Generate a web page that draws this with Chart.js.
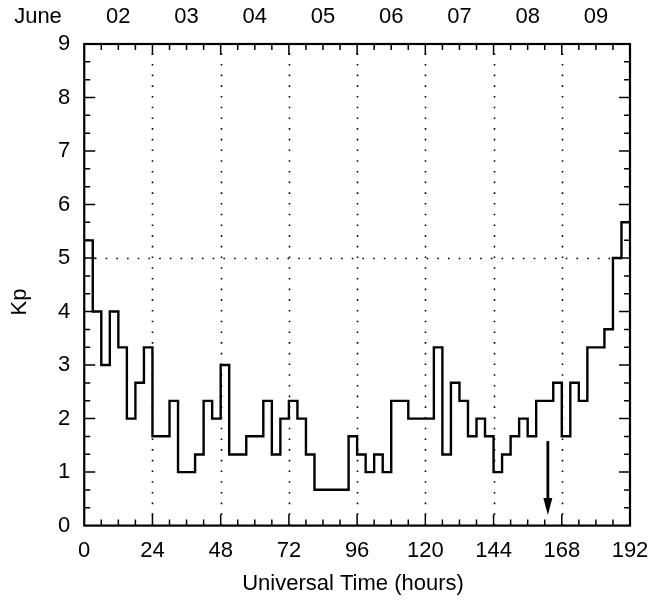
<!DOCTYPE html>
<html>
<head>
<meta charset="utf-8">
<script src="https://cdn.jsdelivr.net/npm/chart.js@4.4.1/dist/chart.umd.min.js"></script>
<style>
  html, body { margin: 0; padding: 0; background: #fff; }
  #wrap { width: 652px; height: 603px; }
</style>
</head>
<body>
<div id="wrap"><canvas id="kpChart" width="652" height="603"></canvas></div>
<script>
'use strict';

/* ── 3-hourly Kp, starting 00 UT June 1 ── */
const kpValues = [
  5.33, 4, 3, 4, 3.33, 2, 2.67, 3.33,
  1.67, 1.67, 2.33, 1, 1, 1.33, 2.33, 2,
  3, 1.33, 1.33, 1.67, 1.67, 2.33, 1.33, 2,
  2.33, 2, 1.33, 0.67, 0.67, 0.67, 0.67, 1.67,
  1.33, 1, 1.33, 1, 2.33, 2.33, 2, 2,
  2, 3.33, 1.33, 2.67, 2.33, 1.67, 2, 1.67,
  1, 1.33, 1.67, 2, 1.67, 2.33, 2.33, 2.67,
  1.67, 2.67, 2.33, 3.33, 3.33, 3.67, 5, 5.67
];
const BIN_HOURS = 3;

const xTickHours = [0, 24, 48, 72, 96, 120, 144, 168, 192];
const yTickVals  = [0, 1, 2, 3, 4, 5, 6, 7, 8, 9];
const dayLabels  = ['02', '03', '04', '05', '06', '07', '08', '09'];
const dayCenters = [12, 36, 60, 84, 108, 132, 156, 180];
const dayGrid    = [24, 48, 72, 96, 120, 144, 168];
const stormKp    = 5;
const arrowHour  = 163.1;
const arrowKp    = [1.58, 0.2];   // shaft top, tip

const FONT = "'Liberation Sans', Arial, sans-serif";
const FSIZE = 22;

/* ── frame, inward ticks, dotted grid, titles, arrow ── */
const framePlugin = {
  id: 'frame',
  beforeDatasetsDraw(chart) {
    const { ctx, chartArea: a, scales: { x, y } } = chart;
    ctx.save();
    ctx.strokeStyle = '#000';
    ctx.lineWidth = 1.6;
    ctx.lineCap = 'butt';
    ctx.setLineDash([1.6, 9.1]);
    dayGrid.forEach(h => {
      const px = Math.round(x.getPixelForValue(h)) + 0.5;
      ctx.beginPath(); ctx.moveTo(px, a.bottom); ctx.lineTo(px, a.top); ctx.stroke();
    });
    const py = Math.round(y.getPixelForValue(stormKp)) + 0.5;
    ctx.beginPath(); ctx.moveTo(a.left, py); ctx.lineTo(a.right, py); ctx.stroke();
    ctx.restore();
  },
  afterDatasetsDraw(chart) {
    const { ctx, chartArea: a, scales: { x, y } } = chart;
    ctx.save();
    ctx.strokeStyle = '#000';
    ctx.fillStyle = '#000';

    // ticks every 6 h, longer every 24 h
    ctx.lineWidth = 1.5;
    for (let h = 6; h < 192; h += 6) {
      const px = x.getPixelForValue(h), len = h % 24 === 0 ? 11 : 6;
      ctx.beginPath();
      ctx.moveTo(px, a.bottom); ctx.lineTo(px, a.bottom - len);
      ctx.moveTo(px, a.top); ctx.lineTo(px, a.top + len);
      ctx.stroke();
    }
    // Kp ticks every third, longer on integers
    for (let k = 1; k < 27; k++) {
      const py = y.getPixelForValue(k / 3), len = k % 3 === 0 ? 11 : 6;
      ctx.beginPath();
      ctx.moveTo(a.left, py); ctx.lineTo(a.left + len, py);
      ctx.moveTo(a.right, py); ctx.lineTo(a.right - len, py);
      ctx.stroke();
    }
    ctx.lineWidth = 2.2;
    ctx.strokeRect(a.left, a.top, a.right - a.left, a.bottom - a.top);

    // day labels along the top
    ctx.font = FSIZE + 'px ' + FONT;
    ctx.textBaseline = 'alphabetic';
    ctx.textAlign = 'center';
    dayLabels.forEach((lab, i) => ctx.fillText(lab, x.getPixelForValue(dayCenters[i]), 23));
    ctx.fillText('June', 38, 23);

    // axis titles
    ctx.fillText('Universal Time (hours)', 353, 590);
    ctx.save();
    ctx.translate(26, 302);
    ctx.rotate(-Math.PI / 2);
    ctx.fillText('Kp', 0, 0);
    ctx.restore();

    // arrow
    const ax = x.getPixelForValue(arrowHour);
    const y0 = y.getPixelForValue(arrowKp[0]), y1 = y.getPixelForValue(arrowKp[1]);
    ctx.lineWidth = 2.8;
    ctx.beginPath(); ctx.moveTo(ax, y0); ctx.lineTo(ax, y1 - 10); ctx.stroke();
    ctx.beginPath();
    ctx.moveTo(ax - 4.5, y1 - 17); ctx.lineTo(ax + 4.5, y1 - 17); ctx.lineTo(ax, y1);
    ctx.closePath(); ctx.fill();
    ctx.restore();
  }
};

const points = kpValues.map((v, i) => ({ x: i * BIN_HOURS, y: v }));
points.push({ x: kpValues.length * BIN_HOURS, y: kpValues[kpValues.length - 1] });

new Chart(document.getElementById('kpChart'), {
  type: 'line',
  data: {
    datasets: [{
      data: points,
      stepped: 'before',
      borderColor: '#000',
      borderWidth: 2.4,
      pointRadius: 0,
      fill: false
    }]
  },
  options: {
    responsive: false,
    animation: false,
    devicePixelRatio: 1,
    layout: { padding: { left: 44, right: 22, top: 44, bottom: 27 } },
    plugins: { legend: { display: false }, tooltip: { enabled: false } },
    scales: {
      x: {
        type: 'linear', min: 0, max: 192,
        afterBuildTicks: s => { s.ticks = xTickHours.map(v => ({ value: v })); },
        afterFit: s => { s.paddingRight = 0; s.paddingLeft = 0; },
        ticks: { color: '#000', font: { family: FONT, size: FSIZE }, padding: 12, maxRotation: 0, autoSkip: false },
        grid: { display: false, drawTicks: false },
        border: { display: false }
      },
      y: {
        min: 0, max: 9,
        afterBuildTicks: s => { s.ticks = yTickVals.map(v => ({ value: v })); },
        ticks: { color: '#000', font: { family: FONT, size: FSIZE }, padding: 14 },
        grid: { display: false, drawTicks: false },
        border: { display: false }
      }
    }
  },
  plugins: [framePlugin]
});
</script>
</body>
</html>
